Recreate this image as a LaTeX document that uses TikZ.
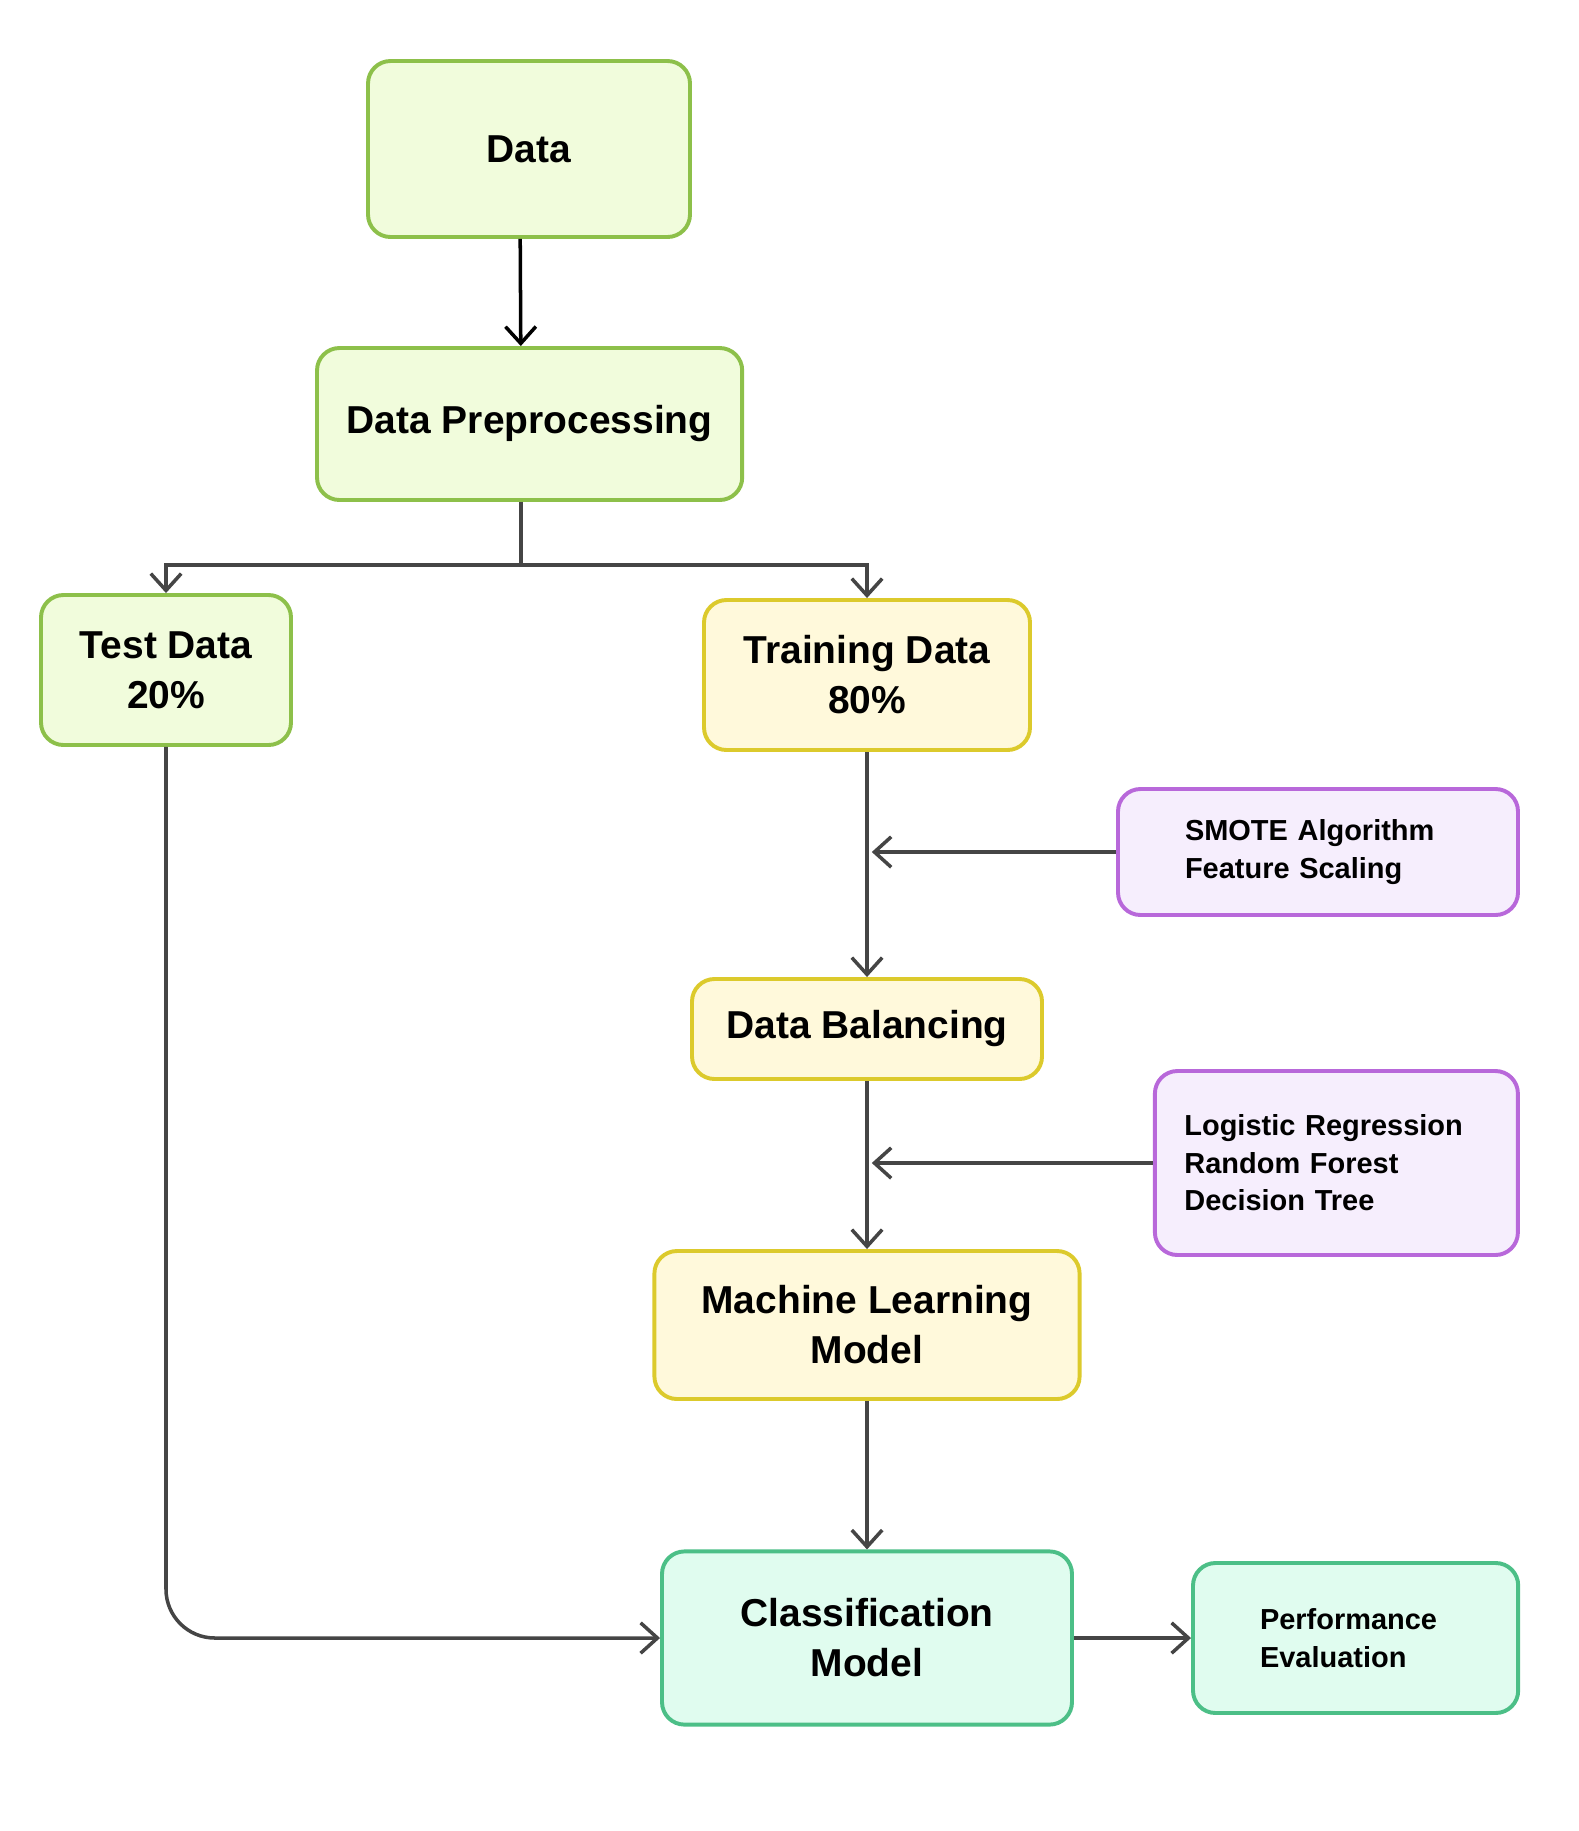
\documentclass[tikz,border=0pt]{standalone}
\usepackage{fontspec}
\setmainfont{Liberation Sans}
\usepackage{tikz}
\usepackage{xcolor}
\usetikzlibrary{arrows.meta}

\definecolor{leafline}{HTML}{8DC04A}
\definecolor{leaffill}{HTML}{F1FCDC}
\definecolor{sunline}{HTML}{DCCA2C}
\definecolor{sunfill}{HTML}{FFF9DB}
\definecolor{lilacline}{HTML}{B868DA}
\definecolor{lilacfill}{HTML}{F6EEFD}
\definecolor{mintline}{HTML}{4CBF87}
\definecolor{mintfill}{HTML}{E0FCEF}
\definecolor{wiregray}{HTML}{454545}

\newcommand{\bigtext}{\fontsize{27.7}{35.6}\selectfont\bfseries}
\newcommand{\smalltext}{\fontsize{20.6}{26.6}\selectfont\bfseries}

\begin{document}
\begin{tikzpicture}[
    box/.style={draw,rounded corners=16pt,line width=2.8pt,inner sep=0pt,align=center,font=\bigtext},
    leafbox/.style={box,draw=leafline,fill=leaffill},
    sunbox/.style={box,draw=sunline,fill=sunfill},
    lilacbox/.style={box,draw=lilacline,fill=lilacfill,align=left,font=\smalltext},
    mintbox/.style={box,draw=mintline,fill=mintfill},
    flow/.style={draw=wiregray,line width=2.5pt,-{Straight Barb[length=0.42cm,width=0.76cm]}}
  ]
    \useasboundingbox (0,0) rectangle (39.45,-45.775);

    % Top of the pipeline
    \node (data) at (13.225,-3.725) [leafbox,minimum width=8.05cm,minimum height=4.4cm] {Data};
    \node (prep) at (13.24,-10.6) [leafbox,minimum width=10.63cm,minimum height=3.8cm] {Data Preprocessing};
    \draw [flow,draw=black] ([xshift=-0.22cm]data.south) to ([xshift=-0.22cm]prep.north);

    % Split into test and training
    \node (test) at (4.15,-16.75) [leafbox,minimum width=6.25cm,minimum height=3.75cm] {Test Data\\20\%};
    \node (train) at (21.675,-16.875) [sunbox,minimum width=8.15cm,minimum height=3.75cm] {Training Data\\80\%};
    \coordinate (split) at ([xshift=-0.22cm,yshift=-1.58cm]prep.south);
    \draw [draw=wiregray,line width=2.5pt] ([xshift=-0.22cm]prep.south) to (split);
    \draw [flow] (split) -| (test.north);
    \draw [flow] (split) -| (train.north);

    % Training branch
    \node (smote) at (32.95,-21.3) [lilacbox,text width=6.65cm,minimum width=10cm,minimum height=3.15cm] {SMOTE Algorithm\\Feature Scaling};
    \node (bal) at (21.675,-25.725) [sunbox,minimum width=8.75cm,minimum height=2.5cm] {Data Balancing};
    \node (algo) at (33.41,-29.075) [lilacbox,text width=7.6cm,minimum width=9.075cm,minimum height=4.6cm] {Logistic Regression\\Random Forest\\Decision Tree};
    \node (ml) at (21.675,-33.125) [sunbox,minimum width=10.63cm,minimum height=3.7cm] {Machine Learning\\Model};
    \draw [flow] (train.south) to (bal.north);
    \draw [flow,shorten >=0.12cm] (smote.west) to (smote.west -| train.south);
    \draw [flow] (bal.south) to (ml.north);
    \draw [flow,shorten >=0.12cm] (algo.west) to (algo.west -| bal.south);

    % Classification and evaluation
    \node (cls) at (21.675,-40.95) [mintbox,minimum width=10.25cm,minimum height=4.33cm] {Classification\\Model};
    \node (perf) at (33.89,-40.95) [mintbox,align=left,font=\smalltext,text width=4.78cm,minimum width=8.13cm,minimum height=3.75cm] {Performance\\Evaluation};
    \draw [flow] (ml.south) to (cls.north);
    \draw [flow,rounded corners=1.22cm] (test.south) |- (cls.west);
    \draw [flow] (cls.east) to (perf.west);
\end{tikzpicture}
\end{document}
